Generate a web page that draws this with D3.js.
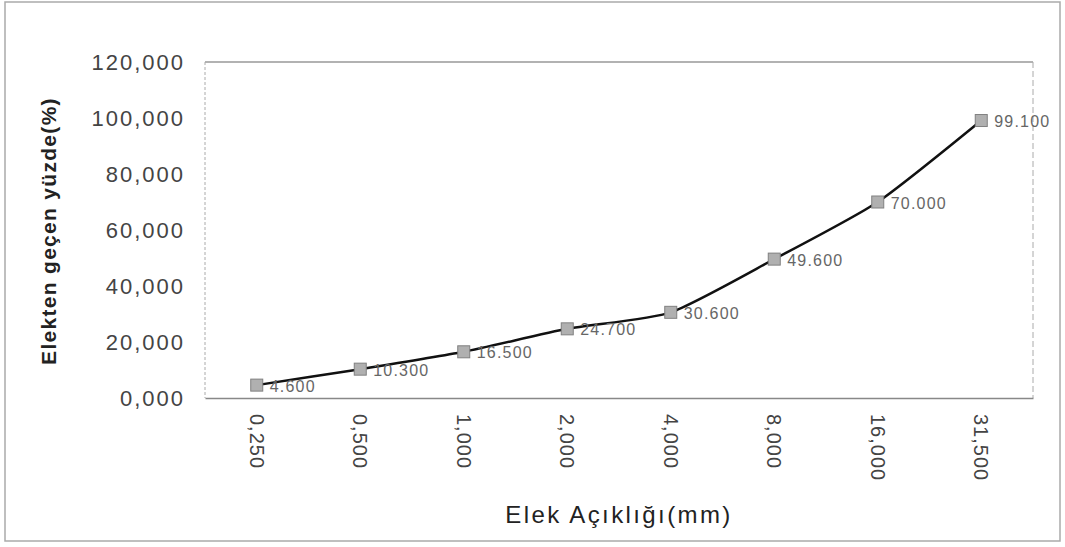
<!DOCTYPE html>
<html>
<head>
<meta charset="utf-8">
<script src="https://cdn.jsdelivr.net/npm/d3@7"></script>
<style>
  body { margin: 0; background: #fff; }
  svg { font-family: "Liberation Sans", Arial, sans-serif; }
</style>
</head>
<body>
<div id="content"></div>
<script>
// sieve sizes (mm) and passing percentages
const sieveSizes = ['0,250', '0,500', '1,000', '2,000', '4,000', '8,000', '16,000', '31,500'];
const passingPct = [4.6, 10.3, 16.5, 24.7, 30.6, 49.6, 70.0, 99.1];
const pointLabels = ['4.600', '10.300', '16.500', '24.700', '30.600', '49.600', '70.000', '99.100'];
const yTicks = [0, 20, 40, 60, 80, 100, 120];

const width = 1065, height = 547;
const plot = { left: 205, right: 1033, top: 62, bottom: 398 };
const font = '"Liberation Sans", Arial, sans-serif';

const svg = d3.select('#content').append('svg')
    .attr('width', width)
    .attr('height', height);

// outer chart frame
svg.append('rect')
    .attr('x', 5).attr('y', 2)
    .attr('width', 1055).attr('height', 539)
    .attr('fill', 'none')
    .attr('stroke', '#aaa')
    .attr('stroke-width', 1.5);

const x = d3.scaleBand()
    .domain(sieveSizes)
    .range([plot.left, plot.right]);

const y = d3.scaleLinear()
    .domain([0, 120])
    .range([plot.bottom, plot.top]);

// plot area border
svg.append('line')
    .attr('x1', plot.left).attr('x2', plot.right)
    .attr('y1', plot.top).attr('y2', plot.top)
    .attr('stroke', '#999').attr('stroke-width', 1.5);
svg.append('line')
    .attr('x1', plot.left).attr('x2', plot.left)
    .attr('y1', plot.top).attr('y2', plot.bottom)
    .attr('stroke', '#aaa').attr('stroke-dasharray', '3,2');
svg.append('line')
    .attr('x1', plot.right).attr('x2', plot.right)
    .attr('y1', plot.top).attr('y2', plot.bottom)
    .attr('stroke', '#aaa').attr('stroke-dasharray', '6,3');

// y axis
const yAxis = svg.append('g')
    .attr('transform', `translate(${plot.left},0)`)
    .call(d3.axisLeft(y).tickValues(yTicks).tickSize(0).tickPadding(20)
        .tickFormat(d => d3.format('.3f')(d).replace('.', ',')));
yAxis.select('.domain').remove();
yAxis.selectAll('text')
    .attr('font-size', 22)
    .attr('letter-spacing', 2)
    .attr('fill', '#444')
    .attr('font-family', font);

// x axis
const xAxis = svg.append('g')
    .attr('transform', `translate(0,${plot.bottom})`)
    .call(d3.axisBottom(x).tickSize(0).tickPadding(0));
xAxis.select('.domain')
    .attr('stroke', '#888').attr('stroke-width', 1.5);
xAxis.selectAll('text')
    .attr('font-size', 20)
    .attr('letter-spacing', 1)
    .attr('fill', '#444')
    .attr('font-family', font)
    .attr('text-anchor', 'start')
    .attr('dy', '0.35em')
    .attr('transform', 'translate(0,16) rotate(90)');

// axis titles
svg.append('text')
    .attr('transform', 'translate(56,231) rotate(-90)')
    .attr('text-anchor', 'middle')
    .attr('font-size', 21)
    .attr('letter-spacing', 1.3)
    .attr('font-weight', 'bold')
    .attr('fill', '#222')
    .text('Elekten geçen yüzde(%)');

svg.append('text')
    .attr('x', 619).attr('y', 523)
    .attr('text-anchor', 'middle')
    .attr('font-size', 24)
    .attr('letter-spacing', 2.4)
    .attr('fill', '#222')
    .text('Elek Açıklığı(mm)');

const pts = sieveSizes.map((s, i) => ({ s, v: passingPct[i], label: pointLabels[i] }));
const cx = d => x(d.s) + x.bandwidth() / 2;

// smoothed line
const line = d3.line()
    .x(cx)
    .y(d => y(d.v))
    .curve(d3.curveCardinal.tension(0.4));

svg.append('path')
    .datum(pts)
    .attr('d', line)
    .attr('fill', 'none')
    .attr('stroke', '#111')
    .attr('stroke-width', 2.5);

// markers
svg.selectAll('rect.marker').data(pts).enter().append('rect')
    .classed('marker', true)
    .attr('x', d => cx(d) - 6)
    .attr('y', d => y(d.v) - 6)
    .attr('width', 12).attr('height', 12)
    .attr('fill', '#b0b0b0')
    .attr('stroke', '#808080')
    .attr('stroke-width', 1);

// data labels
svg.selectAll('text.val').data(pts).enter().append('text')
    .classed('val', true)
    .attr('x', d => cx(d) + 13)
    .attr('y', d => y(d.v) + 1)
    .attr('dy', '0.35em')
    .attr('font-size', 16)
    .attr('letter-spacing', 1.2)
    .attr('fill', '#666')
    .text(d => d.label);
</script>
</body>
</html>
